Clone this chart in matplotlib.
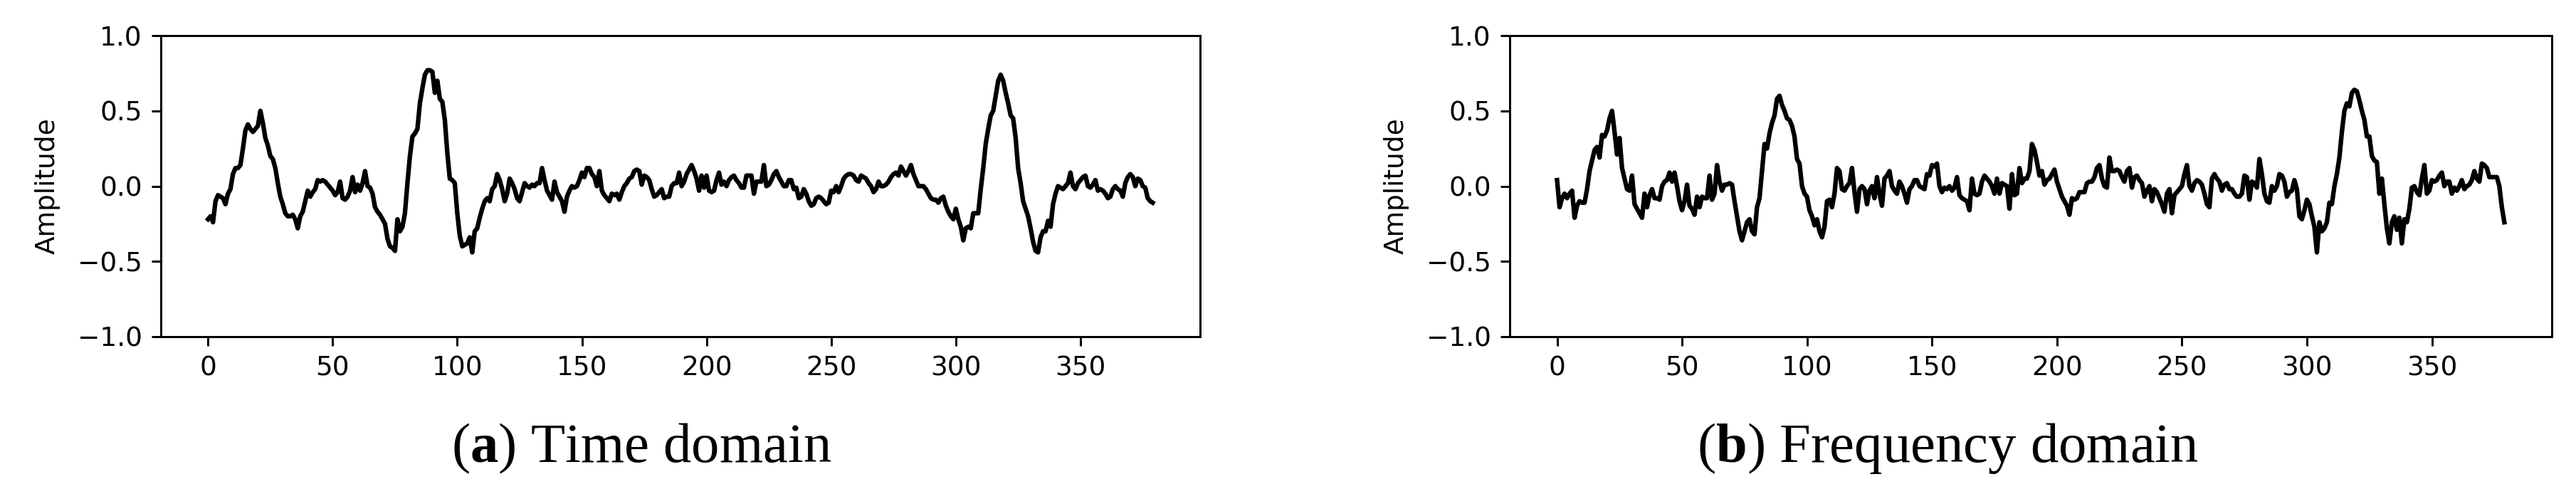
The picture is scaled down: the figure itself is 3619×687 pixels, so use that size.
import numpy as np
import matplotlib
matplotlib.use("Agg")
import matplotlib.pyplot as plt

# amplitude values (380 samples each)
time_domain = [
    -0.22, -0.20, -0.24, -0.10, -0.06, -0.07, -0.08, -0.12, -0.05, -0.02,
    0.08, 0.12, 0.12, 0.14, 0.25, 0.37, 0.41, 0.38, 0.36, 0.38,
    0.40, 0.50, 0.42, 0.32, 0.27, 0.20, 0.18, 0.12, 0.02, -0.07,
    -0.12, -0.18, -0.20, -0.20, -0.19, -0.22, -0.28, -0.20, -0.17, -0.10,
    -0.03, -0.07, -0.04, -0.02, 0.04, 0.03, 0.04, 0.03, 0.01, -0.01,
    -0.03, -0.06, -0.04, 0.03, -0.08, -0.09, -0.07, -0.03, 0.06, -0.04,
    0.01, -0.03, 0.02, 0.10, 0.00, -0.01, -0.05, -0.14, -0.17, -0.19,
    -0.22, -0.25, -0.35, -0.40, -0.41, -0.43, -0.22, -0.30, -0.27, -0.18,
    0.02, 0.20, 0.33, 0.35, 0.38, 0.55, 0.65, 0.74, 0.77, 0.77,
    0.76, 0.62, 0.70, 0.58, 0.56, 0.44, 0.22, 0.05, 0.04, 0.02,
    -0.18, -0.33, -0.40, -0.39, -0.38, -0.34, -0.44, -0.30, -0.28, -0.21,
    -0.15, -0.10, -0.08, -0.10, -0.02, 0.00, 0.08, 0.04, -0.02, -0.10,
    -0.05, 0.05, 0.02, -0.02, -0.08, -0.10, -0.04, 0.02, 0.00, -0.01,
    0.01, 0.00, 0.02, 0.02, 0.12, 0.04, -0.03, -0.06, -0.09, 0.03,
    -0.04, -0.07, -0.10, -0.17, -0.07, -0.03, 0.00, -0.01, 0.00, 0.04,
    0.09, 0.06, 0.12, 0.12, 0.08, 0.06, 0.00, 0.10, -0.03, -0.06,
    -0.08, -0.10, -0.05, -0.06, -0.05, -0.09, -0.04, 0.00, 0.02, 0.05,
    0.06, 0.10, 0.11, 0.10, 0.01, 0.07, 0.06, 0.04, -0.02, -0.07,
    -0.06, -0.04, -0.02, -0.08, -0.07, -0.07, 0.00, 0.02, 0.02, 0.09,
    0.00, 0.03, 0.08, 0.11, 0.14, 0.10, 0.05, -0.03, 0.07, -0.01,
    0.07, -0.03, -0.04, -0.03, 0.04, 0.09, 0.01, 0.03, 0.00, 0.04,
    0.06, 0.07, 0.04, 0.02, -0.01, -0.01, 0.07, 0.07, 0.07, -0.05,
    0.03, 0.03, 0.03, 0.14, 0.00, 0.01, 0.04, 0.08, 0.10, 0.06,
    0.03, 0.00, 0.00, 0.04, 0.04, -0.02, -0.01, -0.08, -0.07, -0.02,
    -0.05, -0.10, -0.13, -0.12, -0.08, -0.07, -0.08, -0.10, -0.12, -0.11,
    -0.03, -0.04, 0.00, -0.04, 0.00, 0.05, 0.07, 0.08, 0.08, 0.07,
    0.04, 0.03, 0.07, 0.06, 0.05, 0.02, 0.00, -0.04, -0.02, 0.03,
    0.00, 0.00, 0.01, 0.03, 0.06, 0.08, 0.09, 0.07, 0.13, 0.10,
    0.07, 0.10, 0.14, 0.08, 0.04, 0.00, 0.00, 0.00, -0.02, -0.05,
    -0.08, -0.09, -0.09, -0.11, -0.08, -0.07, -0.13, -0.17, -0.20, -0.22,
    -0.15, -0.22, -0.27, -0.36, -0.28, -0.27, -0.28, -0.18, -0.18, -0.18,
    -0.02, 0.12, 0.28, 0.38, 0.47, 0.50, 0.60, 0.70, 0.74, 0.70,
    0.62, 0.55, 0.47, 0.45, 0.32, 0.12, 0.02, -0.10, -0.15, -0.20,
    -0.28, -0.37, -0.43, -0.44, -0.34, -0.30, -0.30, -0.23, -0.27, -0.12,
    -0.05, 0.00, -0.01, -0.02, 0.00, 0.02, 0.09, 0.00, -0.02, 0.02,
    0.04, 0.06, 0.07, 0.00, -0.01, 0.01, 0.04, -0.03, -0.02, -0.03,
    -0.05, -0.08, -0.07, -0.02, 0.00, -0.02, -0.03, -0.07, 0.02, 0.06,
    0.08, 0.06, 0.00, 0.05, 0.04, 0.00, -0.01, -0.08, -0.10, -0.11,
]

freq_domain = [
    0.04, -0.14, -0.08, -0.05, -0.08, -0.05, -0.03, -0.21, -0.13, -0.10,
    -0.11, -0.11, -0.02, 0.10, 0.17, 0.24, 0.26, 0.19, 0.34, 0.33,
    0.37, 0.45, 0.50, 0.36, 0.21, 0.32, 0.12, 0.05, -0.02, -0.03,
    0.07, -0.12, -0.15, -0.18, -0.21, -0.05, -0.14, -0.06, -0.02, -0.08,
    -0.08, -0.09, 0.00, 0.03, 0.04, 0.09, 0.03, 0.09, 0.00, -0.10,
    -0.16, -0.10, 0.01, -0.13, -0.15, -0.19, -0.07, -0.14, -0.07, -0.08,
    -0.08, 0.07, -0.09, -0.05, 0.14, 0.03, -0.03, 0.01, 0.01, 0.02,
    0.01, -0.10, -0.20, -0.30, -0.36, -0.30, -0.24, -0.22, -0.30, -0.32,
    -0.14, -0.08, 0.10, 0.28, 0.25, 0.35, 0.42, 0.47, 0.58, 0.60,
    0.54, 0.50, 0.45, 0.44, 0.40, 0.33, 0.18, 0.15, 0.00, -0.05,
    -0.07, -0.16, -0.20, -0.26, -0.22, -0.30, -0.34, -0.27, -0.10, -0.09,
    -0.14, -0.05, 0.12, 0.10, -0.02, -0.03, 0.00, 0.02, 0.12, -0.04,
    -0.17, -0.02, 0.00, -0.02, -0.12, -0.03, 0.00, -0.08, 0.06, -0.05,
    -0.13, 0.05, 0.07, 0.10, 0.00, -0.03, -0.05, 0.03, 0.00, -0.05,
    -0.11, -0.02, 0.00, 0.04, 0.04, 0.00, -0.01, -0.02, 0.08, 0.07,
    0.14, 0.13, 0.15, 0.00, -0.04, -0.01, -0.02, 0.00, -0.03, -0.01,
    0.06, -0.06, -0.08, -0.09, -0.10, -0.16, 0.05, -0.05, -0.06, -0.05,
    0.03, 0.07, 0.05, 0.03, 0.00, -0.05, 0.05, -0.05, 0.02, 0.01,
    0.00, -0.15, 0.08, -0.06, -0.05, 0.12, 0.02, 0.05, 0.05, 0.10,
    0.28, 0.24, 0.16, 0.07, 0.10, 0.01, 0.04, 0.05, 0.08, 0.11,
    0.03, -0.02, -0.07, -0.10, -0.13, -0.19, -0.08, -0.09, -0.08, -0.04,
    -0.04, -0.04, 0.02, 0.03, 0.03, 0.06, 0.12, 0.14, 0.05, 0.00,
    -0.01, 0.19, 0.10, 0.10, 0.11, 0.10, 0.06, 0.03, 0.10, 0.12,
    -0.01, 0.06, 0.07, 0.04, 0.02, -0.07, -0.03, 0.00, -0.10, -0.02,
    -0.04, -0.08, -0.12, -0.17, -0.05, -0.02, -0.18, -0.06, -0.04, -0.02,
    0.00, 0.08, 0.14, 0.00, -0.03, 0.02, 0.04, 0.03, 0.01, -0.05,
    -0.12, -0.14, 0.05, 0.08, 0.05, 0.03, -0.03, 0.01, 0.02, -0.02,
    -0.02, -0.05, -0.07, -0.07, -0.05, 0.07, 0.06, -0.09, 0.03, 0.02,
    -0.01, 0.18, 0.08, -0.05, -0.10, -0.11, 0.00, -0.03, 0.00, 0.08,
    0.07, 0.03, -0.07, -0.04, -0.03, 0.04, -0.02, -0.20, -0.22, -0.16,
    -0.09, -0.12, -0.20, -0.27, -0.44, -0.24, -0.30, -0.28, -0.24, -0.11,
    -0.12, 0.00, 0.08, 0.19, 0.36, 0.50, 0.55, 0.53, 0.62, 0.64,
    0.63, 0.57, 0.50, 0.44, 0.33, 0.33, 0.20, 0.17, 0.16, -0.05,
    0.05, -0.12, -0.28, -0.38, -0.24, -0.20, -0.29, -0.21, -0.38, -0.22,
    -0.24, -0.15, -0.01, 0.00, -0.04, -0.06, 0.05, 0.14, -0.05, -0.03,
    0.04, 0.03, 0.04, 0.07, 0.09, 0.00, 0.03, 0.03, -0.05, -0.01,
    -0.03, 0.00, 0.04, -0.02, 0.00, 0.01, 0.04, 0.10, 0.05, 0.03,
    0.15, 0.14, 0.12, 0.06, 0.06, 0.06, 0.06, 0.00, -0.14, -0.24,
]

captions = [("a", "Time domain"), ("b", "Frequency domain")]
y_ticks = [-1.0, -0.5, 0.0, 0.5, 1.0]
x_ticks = [0, 50, 100, 150, 200, 250, 300, 350]

plt.rcParams['mathtext.fontset'] = 'custom'
plt.rcParams['mathtext.rm'] = 'Liberation Serif'
plt.rcParams['mathtext.bf'] = 'Liberation Serif:bold'

DPI = 270
fig = plt.figure(figsize=(3620 / DPI, 687 / DPI), dpi=DPI)

ax_boxes = [[0.0624, 0.3115, 0.4033, 0.6157], [0.5859, 0.3115, 0.4044, 0.6157]]
caption_x = [0.249, 0.756]

for box, series, (letter, name), cx in zip(ax_boxes, [time_domain, freq_domain], captions, caption_x):
    ax = fig.add_axes(box)
    x = np.arange(len(series))
    ax.plot(x, series, color='black', linewidth=1.7)
    ax.set_ylim(-1.0, 1.0)
    ax.set_yticks(y_ticks)
    ax.set_xticks(x_ticks)
    ax.set_ylabel('Amplitude', labelpad=6.5)
    fig.text(cx, 0.083, r'($\mathbf{%s}$) %s' % (letter, name),
             ha='center', va='center', fontsize=21, family='Liberation Serif')

fig.savefig('out.png', dpi=DPI)
